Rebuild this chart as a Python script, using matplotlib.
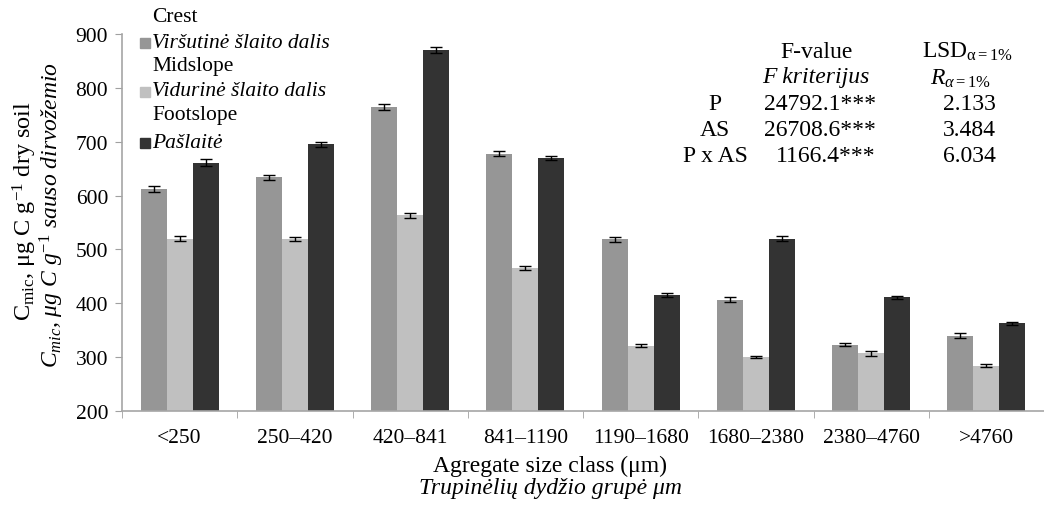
import matplotlib.pyplot as plt
import numpy as np
from matplotlib.patches import Rectangle

plt.rcParams['font.family'] = ['Liberation Serif', 'DejaVu Serif']
plt.rcParams['mathtext.fontset'] = 'custom'
plt.rcParams['mathtext.rm'] = 'Liberation Serif'
plt.rcParams['mathtext.it'] = 'Liberation Serif:italic'

# Data
categories = ['<250', '250–420', '420–841', '841–1190', '1190–1680',
              '1680–2380', '2380–4760', '>4760']
crest = [612, 634, 764, 678, 519, 407, 323, 340]
midslope = [520, 519, 563, 466, 321, 301, 307, 284]
footslope = [661, 695, 870, 670, 416, 520, 411, 363]
crest_err = [5, 5, 6, 5, 5, 5, 3, 4]
midslope_err = [5, 4, 4, 4, 3, 2, 4, 3]
footslope_err = [6, 5, 6, 4, 4, 5, 3, 3]

series_en = ['Crest', 'Midslope', 'Footslope']
series_lt = ['Viršutinė šlaito dalis', 'Vidurinė šlaito dalis', 'Pašlaitė']
colors = ['#969696', '#c0c0c0', '#333333']

stat_rows = ['P', 'AS', 'P x AS']
f_values = ['24792.1***', '26708.6***', '1166.4***']
lsd_values = ['2.133', '3.484', '6.034']

fig = plt.figure(figsize=(10.44, 5.10), dpi=100)
ax = fig.add_axes([122 / 1044, 1 - 412 / 510, 1 - 122 / 1044, (412 - 35) / 510])

x = np.arange(len(categories))
w = 0.225
err_kw = dict(ecolor='black', elinewidth=1, capsize=4, capthick=1)
for i, (vals, errs) in enumerate([(crest, crest_err), (midslope, midslope_err),
                                  (footslope, footslope_err)]):
    ax.bar(x + (i - 1) * w, vals, w, color=colors[i], yerr=errs,
           error_kw=err_kw, zorder=2)

ax.set_xlim(-0.5, len(categories) - 0.5)
ax.set_ylim(200, 900)
ax.set_yticks(range(200, 901, 100))
ax.set_xticks(x)
ax.set_xticklabels(categories)
ax.set_xticks(np.arange(-0.5, len(categories), 1), minor=True)
ax.tick_params(axis='x', which='major', length=0, pad=12, labelsize=15.5)
ax.tick_params(axis='x', which='minor', length=5, color='#a0a0a0')
ax.tick_params(axis='y', length=5, color='#a0a0a0', labelsize=15.5, pad=5)
for s in ['top', 'right']:
    ax.spines[s].set_visible(False)
for s in ['left', 'bottom']:
    ax.spines[s].set_color('#a6a6a6')
    ax.spines[s].set_linewidth(1.2)

# y axis label (two lines)
fig.text(25 / 1044, 1 - 211 / 510, r'C$_{\mathrm{mic}}$, μg C g$^{\mathrm{-1}}$ dry soil',
         rotation=90, ha='center', va='center', fontsize=17.5)
fig.text(52 / 1044, 1 - 215 / 510, r'$C_{mic}$, $\mathit{μg}$ $C$ $g^{-1}$ sauso dirvožemio',
         rotation=90, ha='center', va='center', fontsize=17, style='italic')

# x axis label
fig.text(550 / 1044, 1 - 466 / 510, 'Agregate size class (μm)',
         ha='center', va='center', fontsize=17)
fig.text(550 / 1044, 1 - 489 / 510, 'Trupinėlių dydžio grupė μm',
         ha='center', va='center', fontsize=17, style='italic')

# legend
en_y = [18, 67, 116]
lt_y = [43, 92, 143]
for i in range(3):
    fig.text(152 / 1044, 1 - en_y[i] / 510, series_en[i], ha='left',
             va='center', fontsize=15.5)
    fig.text(152 / 1044, 1 - lt_y[i] / 510, series_lt[i], ha='left',
             va='center', fontsize=15.5, style='italic')
    fig.patches.append(Rectangle((140 / 1044, 1 - (lt_y[i] + 6) / 510),
                                 10 / 1044, 10 / 510, color=colors[i],
                                 transform=fig.transFigure, figure=fig))

# statistics table
fig.text(817 / 1044, 1 - 52 / 510, 'F-value', ha='center', va='center', fontsize=17)
fig.text(968 / 1044, 1 - 52 / 510, r'LSD$_{\mathregular{α= 1\%}}$',
         ha='center', va='center', fontsize=17)
fig.text(816 / 1044, 1 - 78 / 510, 'F kriterijus', ha='center', va='center',
         fontsize=17, style='italic')
fig.text(960 / 1044, 1 - 79 / 510, r'$R_{α= 1\%}$', ha='center', va='center',
         fontsize=17)
row_y = [105, 131, 157]
for i in range(3):
    fig.text(715 / 1044, 1 - row_y[i] / 510, stat_rows[i], ha='center',
             va='center', fontsize=17)
    fig.text(876 / 1044, 1 - row_y[i] / 510, f_values[i], ha='right',
             va='center', fontsize=17)
    fig.text(996 / 1044, 1 - row_y[i] / 510, lsd_values[i], ha='right',
             va='center', fontsize=17)

fig.savefig('out.png', dpi=100)
